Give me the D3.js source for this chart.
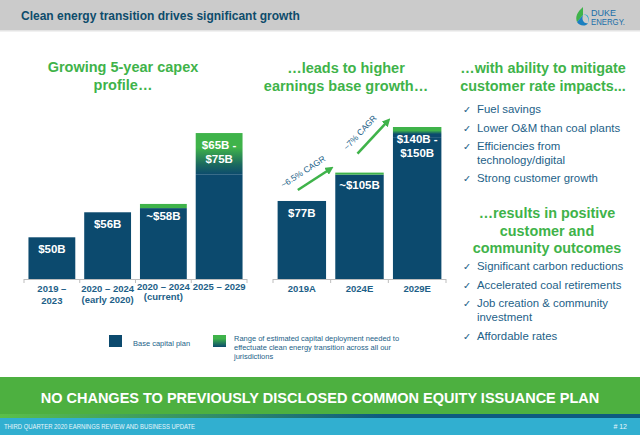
<!DOCTYPE html>
<html><head><meta charset="utf-8">
<script src="https://cdn.jsdelivr.net/npm/d3@7"></script>
<style>
html,body{margin:0;padding:0;background:#fff;}
svg{display:block;font-family:"Liberation Sans",Arial,sans-serif;}
</style></head>
<body>
<svg id="c" width="640" height="435"></svg>
<script>
// ---- data ----
const capexCategories = [["2019 –","2023"],["2020 – 2024","(early 2020)"],["2020 – 2024","(current)"],["2025 – 2029"]];
const capexBase = [50, 56, 57, 65];
const capexUpper = [50, 56, 58, 75];
const capexLabels = [["$50B"],["$56B"],["~$58B"],["$65B -","$75B"]];

const earnCategories = ["2019A","2024E","2029E"];
const earnBase = [77, 103, 140];
const earnUpper = [77, 105, 150];
const earnLabels = [["$77B"],["~$105B"],["$140B -","$150B"]];

const cagrLabels = ["~6.5% CAGR","~7% CAGR"];

const bullets1 = [["Fuel savings"],["Lower O&M than coal plants"],["Efficiencies from","technology/digital"],["Strong customer growth"]];
const bullets2 = [["Significant carbon reductions"],["Accelerated coal retirements"],["Job creation & community","investment"],["Affordable rates"]];

const BLUE = "#0c4a6e", GREEN = "#3fb34a", TXT = "#1d5f88", TITLE = "#0e4c6b";

const svg = d3.select("#c");
const defs = svg.append("defs");
function grad(id, stops){
  const g = defs.append("linearGradient").attr("id",id).attr("x1",0).attr("y1",0).attr("x2",0).attr("y2",1);
  stops.forEach(s=>g.append("stop").attr("offset",s[0]).attr("stop-color",s[1]));
}
grad("gCapex",[[0,GREEN],[0.35,GREEN],[0.75,"#1c6a5e"],[1,BLUE]]);
grad("gEarn",[[0,GREEN],[0.35,GREEN],[0.7,BLUE],[1,BLUE]]);
grad("gLeg",[[0,GREEN],[0.3,GREEN],[1,BLUE]]);
const hg = defs.append("linearGradient").attr("id","gFoot").attr("x1",0).attr("x2",1).attr("y1",0).attr("y2",0);
hg.append("stop").attr("offset",0).attr("stop-color","#5bbf4a");
hg.append("stop").attr("offset",0.35).attr("stop-color","#2f8a6a");
hg.append("stop").attr("offset",0.6).attr("stop-color","#0d5a80");
hg.append("stop").attr("offset",1).attr("stop-color","#0d5a80");

// ---- header ----
svg.append("rect").attr("x",0).attr("y",0).attr("width",640).attr("height",30).attr("fill","#cbcbcb");
svg.append("rect").attr("x",0).attr("y",30).attr("width",640).attr("height",1.5).attr("fill","#e4e4e4");
svg.append("text").attr("x",21).attr("y",19.5).attr("fill",TITLE).attr("font-weight","bold").attr("font-size",12)
  .text("Clean energy transition drives significant growth");
// logo
const logo = svg.append("g").attr("transform","translate(575,7)");
logo.append("path").attr("d","M8,0 C2,5 0,10 2,15 L8,8 Z").attr("fill","#3fb34a");
logo.append("path").attr("d","M2,15 C4,19 11,20 13,16 C10,17 6,14 8,8 Z").attr("fill","#1a7fc0");
logo.append("path").attr("d","M8,8 C12,7 14,11 13,16 C15,11 13,6 8,8 Z").attr("fill","#23a7d8");
logo.append("text").attr("x",16).attr("y",8.5).attr("font-size",9).attr("fill","#1a6ea8").text("DUKE");
logo.append("text").attr("x",16).attr("y",17.5).attr("font-size",9).attr("fill","#1a6ea8")
  .attr("textLength",34).attr("lengthAdjust","spacingAndGlyphs").text("ENERGY.");

// ---- panel titles ----
function ctext(x, lines, y0, dy, opts){
  lines.forEach((l,i)=>{
    svg.append("text").attr("x",x).attr("y",y0+i*dy).attr("text-anchor",opts.anchor||"middle")
      .attr("font-size",opts.size).attr("font-weight",opts.weight||"normal").attr("fill",opts.fill).text(l);
  });
}
ctext(123,["Growing 5-year capex","profile…"],72,18,{size:14.5,weight:"bold",fill:GREEN});
ctext(346,["…leads to higher","earnings base growth…"],73,18,{size:14.5,weight:"bold",fill:GREEN});
ctext(543,["…with ability to mitigate","customer rate impacts..."],73,18,{size:14.4,weight:"bold",fill:GREEN});
ctext(547,["…results in positive","customer and","community outcomes"],218,17.5,{size:14.4,weight:"bold",fill:GREEN});

// ---- bar panel helper ----
const baseY = 279;
function panel(cats, base, upper, labels, x0, x1, y, gradId){
  const x = d3.scaleBand().domain(d3.range(cats.length)).range([x0,x1]).paddingInner(0).paddingOuter(0);
  const bw = x.bandwidth()*0.84, off = (x.bandwidth()-bw)/2;
  const g = svg.append("g");
  g.selectAll("rect.base").data(base).join("rect").attr("class","base")
    .attr("x",(d,i)=>x(i)+off).attr("width",bw)
    .attr("y",d=>y(d)).attr("height",d=>baseY-y(d)).attr("fill",BLUE);
  g.selectAll("rect.rng").data(upper.map((u,i)=>({u,b:base[i],i})).filter(d=>d.u>d.b)).join("rect").attr("class","rng")
    .attr("x",d=>x(d.i)+off).attr("width",bw)
    .attr("y",d=>y(d.u)).attr("height",d=>y(d.b)-y(d.u))
    .attr("fill",d=>(y(d.b)-y(d.u))>6?`url(#${gradId})`:GREEN);
  labels.forEach((ls,i)=>{
    ls.forEach((l,j)=>{
      g.append("text").attr("x",x(i)+x.bandwidth()/2).attr("y",y(upper[i])+16+j*13.5)
        .attr("text-anchor","middle").attr("font-size",11.5).attr("font-weight","bold").attr("fill","#fff").text(l);
    });
  });
  const ax = g.append("g").attr("transform",`translate(0,${baseY})`);
  ax.append("line").attr("x1",x0).attr("x2",x1).attr("y1",0.5).attr("y2",0.5).attr("stroke","#bdbdbd");
  const bounds = d3.range(cats.length+1).map(i=>x0+i*x.step());
  ax.selectAll("line.tk").data(bounds).join("line").attr("class","tk")
    .attr("x1",d=>d).attr("x2",d=>d).attr("y1",0).attr("y2",4).attr("stroke","#bdbdbd");
  return {g,x};
}

// left capex panel
const yCap = d3.scaleLinear().domain([40,80]).range([baseY, baseY-40*4.17]);
const p1 = panel(capexCategories, capexBase, capexUpper, capexLabels, 24, 247, yCap, "gCapex");
const catY1 = [[292,304],[292,303],[290,300],[290]];
capexCategories.forEach((ls,i)=>{
  ls.forEach((l,j)=>{
    p1.g.append("text").attr("x",p1.x(i)+p1.x.bandwidth()/2).attr("y",catY1[i][j]).attr("text-anchor","middle")
      .attr("font-size",9.5).attr("font-weight","bold").attr("fill",TXT).text(l);
  });
});

// middle earnings panel
const yEarn = d3.scaleLinear().domain([0,150]).range([baseY, baseY-152]);
const p2 = panel(earnCategories, earnBase, earnUpper, earnLabels, 273, 446, yEarn, "gEarn");
earnCategories.forEach((l,i)=>{
  p2.g.append("text").attr("x",p2.x(i)+p2.x.bandwidth()/2).attr("y",292).attr("text-anchor","middle")
    .attr("font-size",9.5).attr("font-weight","bold").attr("fill",TXT).text(l);
});

// CAGR arrows
defs.append("marker").attr("id","ah").attr("viewBox","0 0 10 10").attr("refX",3).attr("refY",5)
  .attr("markerWidth",3.2).attr("markerHeight",3.2).attr("orient","auto")
  .append("path").attr("d","M0,0 L10,5 L0,10 Z").attr("fill",GREEN);
const c0 = p2.x(0)+p2.x.bandwidth()/2, c1 = p2.x(1)+p2.x.bandwidth()/2;
const arrows = [
  {x1:c0-4, y1:yEarn(earnUpper[0])-11, x2:p2.x(1)-2, y2:yEarn(earnUpper[0])-31},
  {x1:c1-2, y1:yEarn(earnUpper[1])-19, x2:p2.x(2)-2, y2:yEarn(earnUpper[1])-50}
];
arrows.forEach((a,i)=>{
  svg.append("line").attr("x1",a.x1).attr("y1",a.y1).attr("x2",a.x2).attr("y2",a.y2)
    .attr("stroke",GREEN).attr("stroke-width",2.6).attr("marker-end","url(#ah)");
  const r = Math.atan2(a.y2-a.y1, a.x2-a.x1), ang = r*180/Math.PI;
  const mx=(a.x1+a.x2)/2, my=(a.y1+a.y2)/2;
  const nx = Math.sin(r)*9.5 - Math.cos(r)*4, ny = -Math.cos(r)*9.5 - Math.sin(r)*4;
  svg.append("text").attr("transform",`translate(${mx+nx},${my+ny}) rotate(${ang})`)
    .attr("text-anchor","middle").attr("font-size",8.5).attr("fill",TXT).text(cagrLabels[i]);
});

// ---- bullets ----
function bulletList(items, y0, step, lineStep){
  let y = y0;
  items.forEach(ls=>{
    svg.append("text").attr("x",463).attr("y",y+4).attr("font-size",9.5).attr("fill",TXT)
      .attr("font-family","DejaVu Sans").text("✓");
    ls.forEach((l,j)=>{
      svg.append("text").attr("x",477).attr("y",y+4+j*lineStep).attr("font-size",11.4).attr("fill",TXT).text(l);
    });
    y += step + (ls.length-1)*lineStep;
  });
}
bulletList(bullets1, 109, 18.5, 13.5);
bulletList(bullets2, 266, 18.5, 14);

// ---- legend ----
svg.append("rect").attr("x",109).attr("y",335).attr("width",13).attr("height",12).attr("fill",BLUE);
svg.append("text").attr("x",133).attr("y",346).attr("font-size",7.5).attr("fill",TXT).text("Base capital plan");
svg.append("rect").attr("x",213).attr("y",335).attr("width",13).attr("height",12).attr("fill","url(#gLeg)");
["Range of estimated capital deployment needed to","effectuate clean energy transition across all our","jurisdictions"]
  .forEach((l,i)=>svg.append("text").attr("x",234).attr("y",341+i*9).attr("font-size",7.5).attr("fill",TXT).text(l));

// ---- bottom banner ----
svg.append("rect").attr("x",0).attr("y",377).attr("width",640).attr("height",38).attr("fill","#4db040");
svg.append("text").attr("x",320).attr("y",403).attr("text-anchor","middle").attr("font-size",14.5)
  .attr("font-weight","bold").attr("fill","#fff").text("NO CHANGES TO PREVIOUSLY DISCLOSED COMMON EQUITY ISSUANCE PLAN");
svg.append("rect").attr("x",0).attr("y",414).attr("width",640).attr("height",4).attr("fill","url(#gFoot)");
svg.append("rect").attr("x",0).attr("y",418).attr("width",640).attr("height",17).attr("fill","#31afd0");
svg.append("text").attr("x",4).attr("y",429).attr("font-size",7).attr("fill","#e8f6fb")
  .attr("textLength",191).attr("lengthAdjust","spacingAndGlyphs").text("THIRD QUARTER 2020 EARNINGS REVIEW AND BUSINESS UPDATE");
svg.append("text").attr("x",627).attr("y",429).attr("text-anchor","end").attr("font-size",7).attr("fill","#e8f6fb").text("# 12");
</script>
</body></html>
